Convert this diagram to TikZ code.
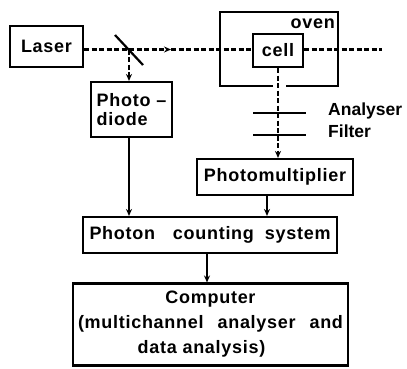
\documentclass[tikz,border=0pt]{standalone}
\usepackage{fontspec}
\newfontfamily\labfont[LetterSpace=4]{Liberation Sans}
\newfontfamily\sidefont{Liberation Sans}
\usetikzlibrary{arrows.meta}
\begin{document}
\begin{tikzpicture}[x=1pt,y=-1pt,
  txt/.style={font=\labfont\bfseries\fontsize{18}{19}\selectfont},
  box/.style={draw,line width=2.1pt,inner sep=0pt,txt},
  lbl/.style={inner sep=0pt,txt},
  side/.style={inner sep=0pt,font=\sidefont\bfseries\fontsize{17.5}{19}\selectfont},
  beam/.style={line width=2.1pt,dash pattern=on 5pt off 2.5pt},
  sig/.style={line width=2.1pt},
  tip/.style={-{Stealth[length=7pt,width=6pt]}}]
\useasboundingbox (0,0) rectangle (407,368);

% boxes
\node[box,minimum width=73pt,minimum height=41pt] (laser) at (46.5,46.5) {Laser};
\node[box,minimum width=81pt,minimum height=55pt,align=left] (pd) at (131.5,109.5) {Photo –\\diode};
\node[box,minimum width=50pt,minimum height=33pt] (cell) at (278,50.5) {cell};
\node[box,minimum width=156pt,minimum height=36pt] (pm) at (275,177) {Photomultiplier};
\node[box,minimum width=254pt,minimum height=36pt] (pcs) at (210,235)
      {\makebox[241pt][s]{Photon\hspace{4pt plus 2fil}counting\hspace{4pt plus 1fil}system}};
\node[box,minimum width=275pt,minimum height=82pt,align=center,
      font=\labfont\bfseries\fontsize{18}{25}\selectfont] (comp) at (210.5,324.5)
      {Computer\\\makebox[265pt][s]{(multichannel\hspace{4pt plus 1fil}analyser\hspace{4pt plus 1fil}and}\\\hspace*{-18pt}data analysis)};

% oven
\draw[sig] (273,86) -- (220,86) -- (220,12) -- (338,12) -- (338,86) -- (286,86);
\node[lbl,anchor=base east] (ovenlbl) at (335,28) {oven};

% beam
\coordinate (bs) at (129,49.5);
\coordinate (mk) at (171,49.5);
\coordinate (bend) at (382,49.5);
\coordinate (m1) at (115,35);
\coordinate (m2) at (143,65);
\draw[beam] (laser.east |- bs) -- (bs);
\draw[beam,tip] (bs) -- (mk);
\draw[beam] (mk) -- (cell.west |- bs);
\draw[beam] (cell.east |- bs) -- (bend);
\draw[line width=2.2pt] (m1) -- (m2);
\draw[beam,tip] (bs) -- (bs |- pd.north);

% analyser and filter
\coordinate (a1) at (253,113);
\coordinate (a2) at (306,113);
\coordinate (f1) at (253,135);
\coordinate (f2) at (306,135);
\draw[beam,tip] (cell.south) -- (cell.south |- pm.north);
\draw[sig] (a1) -- (a2);
\draw[sig] (f1) -- (f2);
\node[side,anchor=base west] (an) at (328,115) {Analyser};
\node[side,anchor=base west] (fi) at (328,137) {Filter};

% signal arrows
\coordinate (px) at (267,0);
\coordinate (cx) at (207,0);
\draw[sig,tip] (bs |- pd.south) -- (bs |- pcs.north);
\draw[sig,tip] (px |- pm.south) -- (px |- pcs.north);
\draw[sig,tip] (cx |- pcs.south) -- (cx |- comp.north);
\end{tikzpicture}
\end{document}
